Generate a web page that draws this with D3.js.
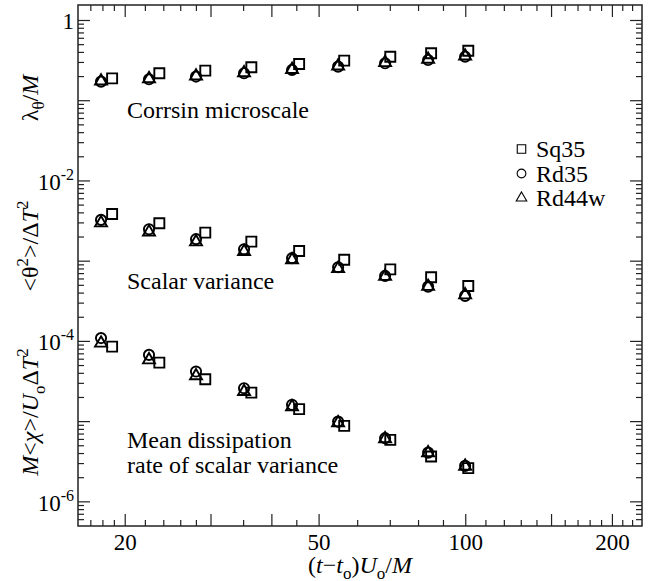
<!DOCTYPE html>
<html>
<head>
<meta charset="utf-8">
<script src="https://cdn.jsdelivr.net/npm/d3@7"></script>
<style>
  body { margin: 0; background: #fff; }
  svg { display: block; }
  text { font-family: "Liberation Serif", "Times New Roman", serif; fill: #000; }
</style>
</head>
<body>
<svg id="chart"></svg>
<script>
const WIDTH = 662;
const HEIGHT = 581;
const margin = { top: 5, right: 20, bottom: 55, left: 78 };

// x positions (t-to)Uo/M for each grid
const tRd = [17.84, 22.38, 27.95, 35.07, 44.0, 54.7, 68.3, 83.7, 99.7];
const tSq = [18.8, 23.5, 29.2, 36.3, 45.5, 56.3, 70.0, 84.9, 101.2];

// Corrsin microscale lambda_theta / M
const lamSq35 = [0.190, 0.220, 0.237, 0.261, 0.287, 0.316, 0.354, 0.390, 0.420];
const lamRd35 = [0.173, 0.185, 0.200, 0.220, 0.242, 0.266, 0.293, 0.322, 0.354];
const lamRd44w = [0.176, 0.188, 0.203, 0.223, 0.245, 0.270, 0.298, 0.328, 0.360];

// scalar variance <theta^2>/dT^2
const varSq35 = [3.88e-3, 2.97e-3, 2.27e-3, 1.75e-3, 1.34e-3, 1.04e-3, 7.9e-4, 6.3e-4, 4.9e-4];
const varRd35 = [3.27e-3, 2.50e-3, 1.88e-3, 1.41e-3, 1.09e-3, 8.4e-4, 6.55e-4, 4.82e-4, 3.69e-4];
const varRd44w = [3.0e-3, 2.31e-3, 1.74e-3, 1.32e-3, 1.04e-3, 8.1e-4, 6.46e-4, 4.84e-4, 3.8e-4];

// mean dissipation rate M<chi>/(Uo dT^2)
const chiSq35 = [8.6e-5, 5.44e-5, 3.38e-5, 2.30e-5, 1.43e-5, 8.85e-6, 5.93e-6, 3.67e-6, 2.63e-6];
const chiRd35 = [1.10e-4, 6.79e-5, 4.21e-5, 2.61e-5, 1.62e-5, 1.0e-5, 6.22e-6, 4.11e-6, 2.81e-6];
const chiRd44w = [9.5e-5, 5.88e-5, 3.72e-5, 2.37e-5, 1.53e-5, 9.64e-6, 6.1e-6, 4.08e-6, 2.78e-6];

const xDomain = [16, 230];
const yDomain = [5.0e-7, 1.56];
const xMajor = [20, 30, 40, 50, 100, 150, 200];
const xMinor = [17, 18, 19, 22, 24, 26, 28, 35, 45, 60, 70, 80, 90, 110, 120, 130, 140, 160, 170, 180, 190, 210, 220];
const xLabels = [20, 50, 100, 200];
const yLabels = [
  { v: 1, base: "1", exp: "" },
  { v: 1e-2, base: "10", exp: "-2" },
  { v: 1e-4, base: "10", exp: "-4" },
  { v: 1e-6, base: "10", exp: "-6" },
];
const seriesNames = ["Sq35", "Rd35", "Rd44w"];

const svg = d3.select("#chart").attr("width", WIDTH).attr("height", HEIGHT);
const x0 = margin.left, x1 = WIDTH - margin.right;
const y0 = margin.top, y1 = HEIGHT - margin.bottom;

const x = d3.scaleLog().domain(xDomain).range([x0, x1]);
const y = d3.scaleLog().domain(yDomain).range([y1, y0]);

const axisColor = "#222";
const g = svg.append("g");

// ticks on all four sides
function xTick(v, len) {
  g.append("line").attr("x1", x(v)).attr("x2", x(v)).attr("y1", y1).attr("y2", y1 - len)
    .attr("stroke", axisColor).attr("stroke-width", 1.2);
  g.append("line").attr("x1", x(v)).attr("x2", x(v)).attr("y1", y0).attr("y2", y0 + len)
    .attr("stroke", axisColor).attr("stroke-width", 1.2);
}
function yTick(v, len) {
  g.append("line").attr("x1", x0).attr("x2", x0 + len).attr("y1", y(v)).attr("y2", y(v))
    .attr("stroke", axisColor).attr("stroke-width", 1.2);
  g.append("line").attr("x1", x1).attr("x2", x1 - len).attr("y1", y(v)).attr("y2", y(v))
    .attr("stroke", axisColor).attr("stroke-width", 1.2);
}
xMajor.forEach((v) => xTick(v, 12));
xMinor.forEach((v) => xTick(v, 6));

const yMajor = d3.range(-6, 1).map((e) => Math.pow(10, e));
const yMinor = [];
d3.range(-7, 0).forEach((e) => {
  d3.range(2, 10).forEach((m) => {
    const v = m * Math.pow(10, e);
    if (v > yDomain[0] && v < yDomain[1]) yMinor.push(v);
  });
});
yMajor.forEach((v) => yTick(v, 12));
yMinor.forEach((v) => yTick(v, 6));

g.append("rect").attr("x", x0).attr("y", y0).attr("width", x1 - x0).attr("height", y1 - y0)
  .attr("fill", "none").attr("stroke", axisColor).attr("stroke-width", 1.5);

// tick labels
g.selectAll(".xl").data(xLabels).enter().append("text")
  .attr("x", (d) => x(d)).attr("y", y1 + 24)
  .attr("text-anchor", "middle").attr("font-size", 23)
  .text((d) => d);

yLabels.forEach((d) => {
  const t = g.append("text").attr("x", 74).attr("y", y(d.v) + 9)
    .attr("text-anchor", "end").attr("font-size", 23);
  t.append("tspan").text(d.base);
  if (d.exp) {
    t.append("tspan").attr("dy", -10).attr("font-size", 16).text(d.exp);
  }
});

// data markers
const sym = {
  Sq35: d3.symbol().type(d3.symbolSquare).size(100),
  Rd35: d3.symbol().type(d3.symbolCircle).size(82),
  Rd44w: d3.symbol().type(d3.symbolTriangle).size(62),
};
const groups = [
  [lamSq35, lamRd35, lamRd44w],
  [varSq35, varRd35, varRd44w],
  [chiSq35, chiRd35, chiRd44w],
];
groups.forEach((set) => {
  set.forEach((vals, i) => {
    const name = seriesNames[i];
    const xs = name === "Sq35" ? tSq : tRd;
    g.selectAll(null).data(vals).enter().append("path")
      .attr("d", sym[name]())
      .attr("transform", (d, j) => `translate(${x(xs[j])},${y(d)})`)
      .attr("fill", "none").attr("stroke", "#000").attr("stroke-width", 1.9);
  });
});

// annotations
const ann = [
  { t: "Corrsin microscale", yy: 118 },
  { t: "Scalar variance", yy: 289 },
  { t: "Mean dissipation", yy: 448 },
  { t: "rate of scalar variance", yy: 473 },
];
ann.forEach((a) => {
  g.append("text").attr("x", 127).attr("y", a.yy).attr("font-size", 24).text(a.t);
});

// legend
const legSym = {
  Sq35: d3.symbol().type(d3.symbolSquare).size(72),
  Rd35: d3.symbol().type(d3.symbolCircle).size(60),
  Rd44w: d3.symbol().type(d3.symbolTriangle).size(48),
};
seriesNames.forEach((n, i) => {
  const ly = 149 + i * 24.5;
  g.append("path").attr("d", legSym[n]()).attr("transform", `translate(521.5,${ly})`)
    .attr("fill", "none").attr("stroke", "#000").attr("stroke-width", 1.1);
  g.append("text").attr("x", 536).attr("y", ly + 8).attr("font-size", 24).text(n);
});

// y-axis titles (rotated)
function yTitle(cy, build) {
  const t = svg.append("text").attr("transform", `translate(38,${cy}) rotate(-90)`)
    .attr("text-anchor", "middle").attr("font-size", 24);
  build(t);
}
yTitle(98, (t) => {
  t.append("tspan").text("\u03bb");
  t.append("tspan").attr("dy", 6).attr("font-size", 17).text("\u03b8");
  t.append("tspan").attr("dy", -6).text("/");
  t.append("tspan").attr("font-style", "italic").text("M");
});
yTitle(246, (t) => {
  t.append("tspan").text("<\u03b8");
  t.append("tspan").attr("dy", -10).attr("font-size", 17).text("2");
  t.append("tspan").attr("dy", 10).text(">/\u0394");
  t.append("tspan").attr("font-style", "italic").text("T");
  t.append("tspan").attr("dy", -10).attr("font-size", 17).text("2");
});
yTitle(412, (t) => {
  t.append("tspan").attr("font-style", "italic").text("M");
  t.append("tspan").text("<");
  t.append("tspan").attr("font-style", "italic").text("\u03c7");
  t.append("tspan").text(">/");
  t.append("tspan").attr("font-style", "italic").text("U");
  t.append("tspan").attr("dy", 7).attr("font-size", 17).text("o");
  t.append("tspan").attr("dy", -7).text("\u0394");
  t.append("tspan").attr("font-style", "italic").text("T");
  t.append("tspan").attr("dy", -10).attr("font-size", 17).text("2");
});

// x-axis title
const xt = svg.append("text").attr("x", (x0 + x1) / 2).attr("y", 573)
  .attr("text-anchor", "middle").attr("font-size", 24);
xt.append("tspan").text("(");
xt.append("tspan").attr("font-style", "italic").text("t");
xt.append("tspan").text("\u2212");
xt.append("tspan").attr("font-style", "italic").text("t");
xt.append("tspan").attr("dy", 6).attr("font-size", 17).text("o");
xt.append("tspan").attr("dy", -6).text(")");
xt.append("tspan").attr("font-style", "italic").text("U");
xt.append("tspan").attr("dy", 6).attr("font-size", 17).text("o");
xt.append("tspan").attr("dy", -6).text("/");
xt.append("tspan").attr("font-style", "italic").text("M");
</script>
</body>
</html>
